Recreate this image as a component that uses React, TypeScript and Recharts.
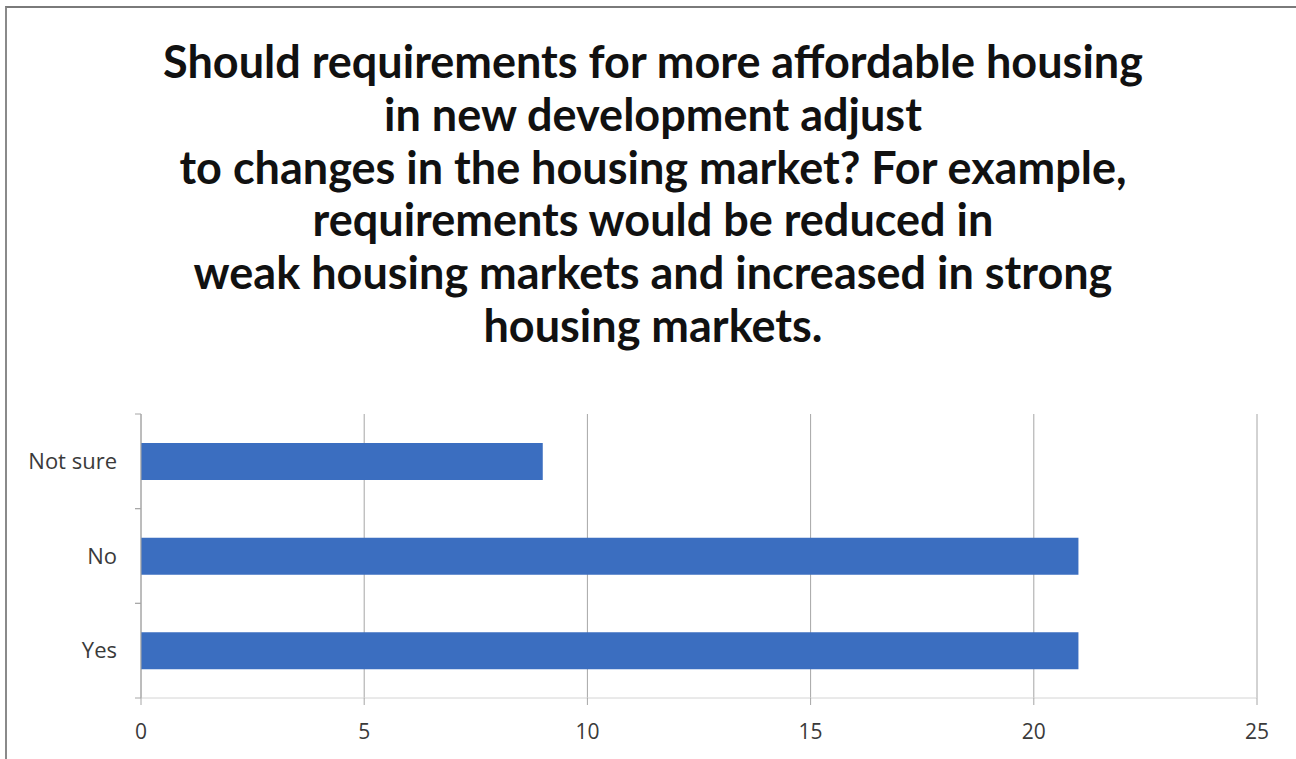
import { Bar, BarChart, CartesianGrid, XAxis, YAxis } from 'recharts'

const categories = ['Not sure', 'No', 'Yes']
const responses = [9, 21, 21]
const xTicks = [0, 5, 10, 15, 20, 25]
const titleLines = [
  'Should requirements for more affordable housing',
  'in new development adjust',
  'to changes in the housing market? For example,',
  'requirements would be reduced in',
  'weak housing markets and increased in strong',
  'housing markets.',
]

const BLUE = '#3B6EC0'
const FONT = 'Lato, "Open Sans", sans-serif'
const TICK_FONT = '"Open Sans", Lato, sans-serif'
const PLOT_TOP = 414
const PLOT_BOTTOM = 698

const data = categories.map((name, i) => ({ name, value: responses[i] }))

function CategoryTick({ x, y, payload }: { x?: number; y?: number; payload?: { value: string } }) {
  const band = (PLOT_BOTTOM - PLOT_TOP) / categories.length
  const ax = (x ?? 0) + 8
  const cy = y ?? 0
  return (
    <g>
      <line x1={ax - 6} x2={ax} y1={cy - band / 2} y2={cy - band / 2} stroke="#a6a6a6" />
      <line x1={ax - 6} x2={ax} y1={cy + band / 2} y2={cy + band / 2} stroke="#a6a6a6" />
      <text x={ax - 24} y={cy} dy="0.35em" textAnchor="end" fontSize={22} fontFamily={TICK_FONT} fill="#3a3a3a">
        {payload?.value}
      </text>
    </g>
  )
}

export default function App() {
  return (
    <div style={{ position: 'absolute', left: 0, top: 0, width: 1296, height: 759, background: '#fff' }}>
      <div
        style={{
          position: 'absolute',
          left: 5,
          top: 6,
          right: 0,
          bottom: 0,
          borderTop: '2px solid #7a7a7a',
          borderLeft: '2px solid #8a8a8a',
        }}
      />
      <div
        style={{
          position: 'absolute',
          left: 0,
          top: 35,
          width: 1306,
          textAlign: 'center',
          fontFamily: FONT,
          fontWeight: 700,
          fontSize: 45,
          lineHeight: '52.8px',
          color: '#111',
        }}
      >
        {titleLines.map((line) => (
          <div key={line}>{line}</div>
        ))}
      </div>
      <div style={{ position: 'absolute', left: 0, top: 0 }}>
        <BarChart
          width={1296}
          height={759}
          data={data}
          layout="vertical"
          margin={{ top: PLOT_TOP, right: 39, left: 0, bottom: 29 }}
          barSize={37}
        >
          <CartesianGrid horizontal={false} stroke="#a6a6a6" />
          <XAxis
            type="number"
            domain={[0, 25]}
            ticks={xTicks}
            interval={0}
            height={32}
            axisLine={{ stroke: '#d4d4d4' }}
            tickLine={{ stroke: '#a6a6a6' }}
            tickSize={7}
            tickMargin={19}
            tick={{ fontSize: 21, fontFamily: TICK_FONT, fill: '#3a3a3a' }}
          />
          <YAxis
            type="category"
            dataKey="name"
            width={141}
            axisLine={{ stroke: '#a6a6a6' }}
            tickLine={false}
            tick={<CategoryTick />}
          />
          <Bar dataKey="value" fill={BLUE} isAnimationActive={false} />
        </BarChart>
      </div>
    </div>
  )
}
